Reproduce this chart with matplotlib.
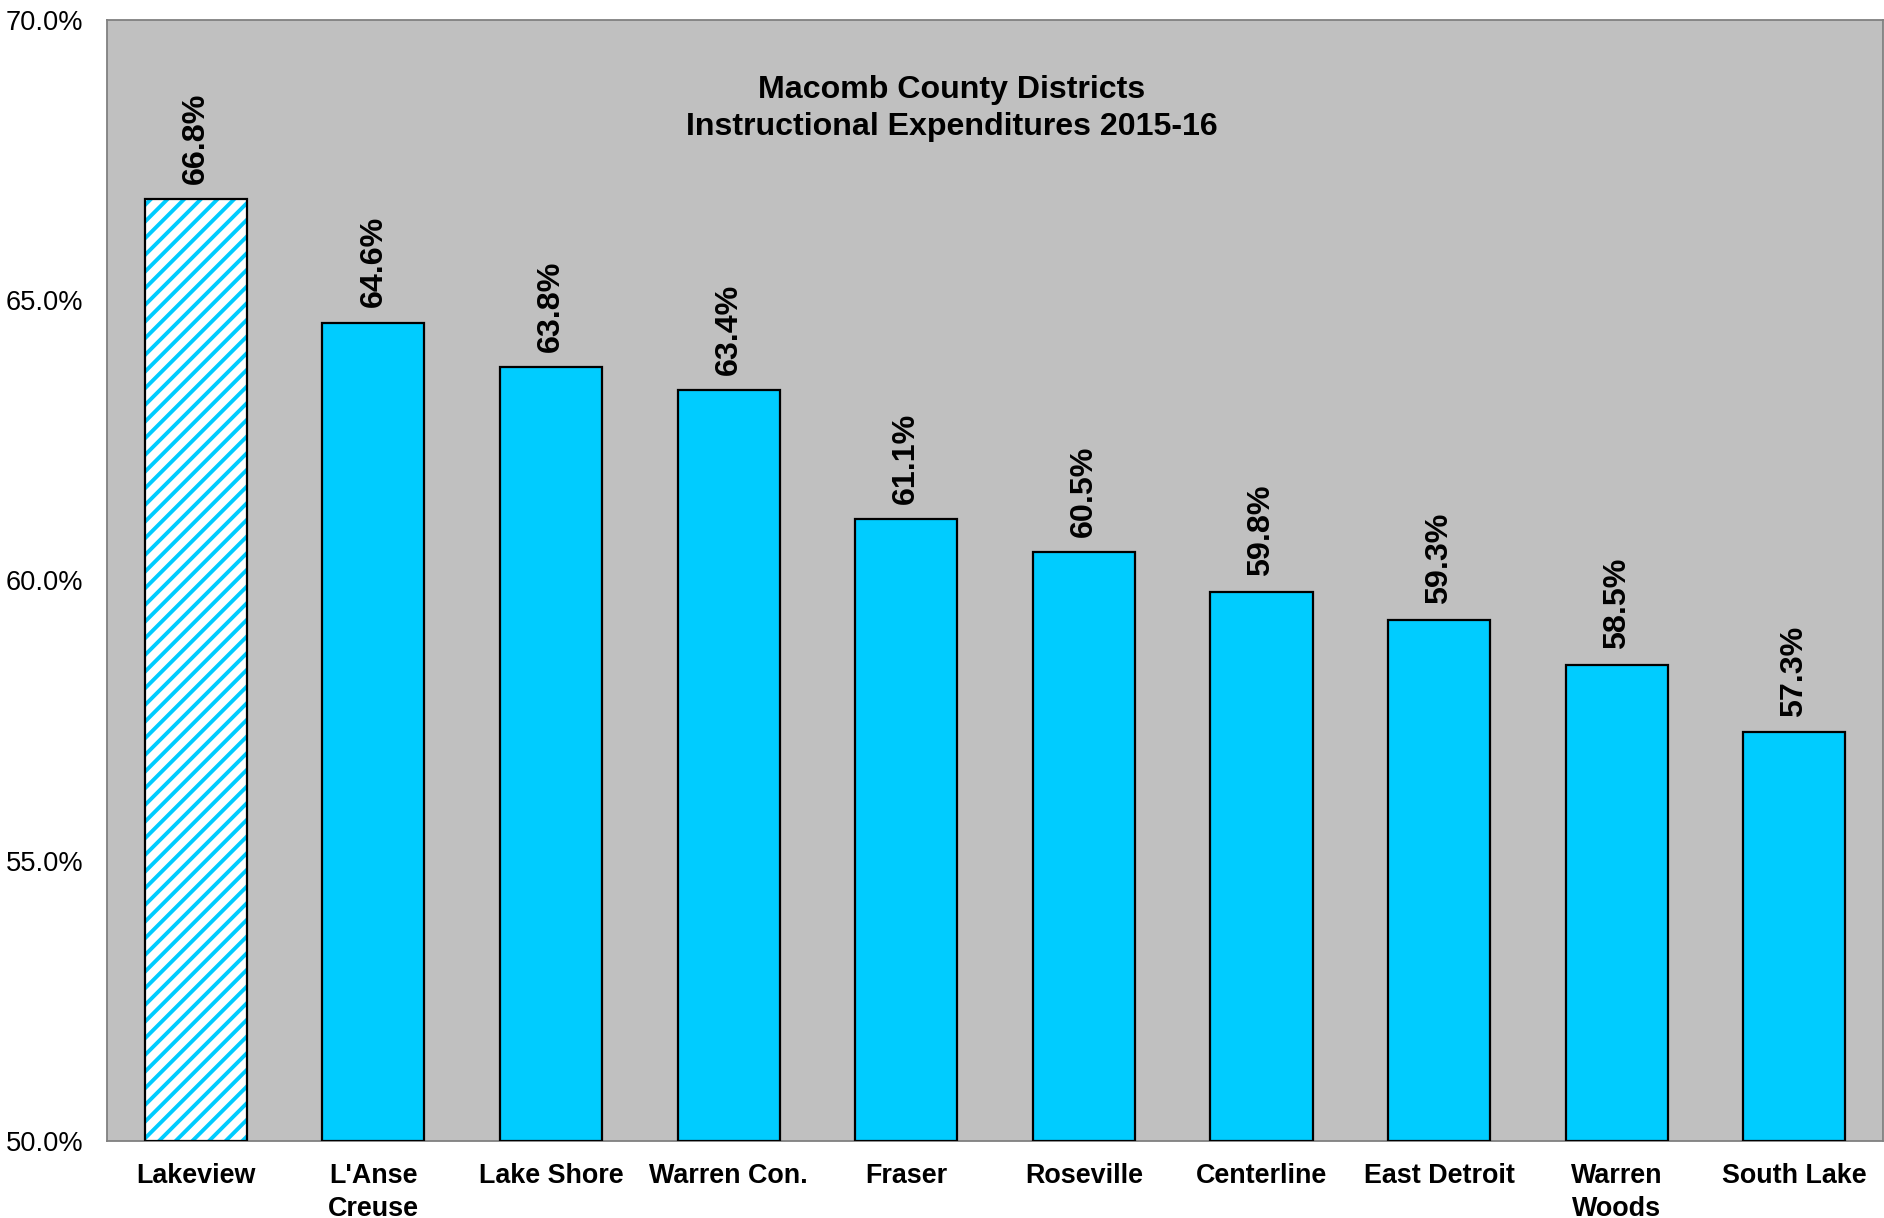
import matplotlib
matplotlib.use("Agg")
import matplotlib.pyplot as plt
import numpy as np

# Data
districts = ["Lakeview", "L'Anse\nCreuse", "Lake Shore", "Warren Con.", "Fraser",
             "Roseville", "Centerline", "East Detroit", "Warren\nWoods", "South Lake"]
values = [66.8, 64.6, 63.8, 63.4, 61.1, 60.5, 59.8, 59.3, 58.5, 57.3]
y_ticks = [50, 55, 60, 65, 70]

CYAN = "#00CCFF"
plt.rcParams['font.family'] = ['Liberation Sans', 'DejaVu Sans']
plt.rcParams['hatch.linewidth'] = 2.8

fig = plt.figure(figsize=(18.84, 12.18), dpi=100)
ax = fig.add_axes([0.0568, 0.0632, 0.9427, 0.9204])
ax.set_facecolor("#C0C0C0")

x = np.arange(len(districts))
width = 0.575

# Lakeview is highlighted with a hatch, the rest are solid
ax.bar(x[0], values[0] - 50, width, bottom=50, color="white",
       edgecolor=CYAN, hatch="//", linewidth=0, zorder=2)
ax.bar(x[0], values[0] - 50, width, bottom=50, fill=False,
       edgecolor="black", linewidth=1.6, zorder=3)
ax.bar(x[1:], np.array(values[1:]) - 50, width, bottom=50, color=CYAN,
       edgecolor="black", linewidth=1.6, zorder=3)

for xi, v in zip(x, values):
    ax.annotate(f"{v:.1f}%", xy=(xi, v), xytext=(0, 11), textcoords="offset points",
                rotation=90, ha="center", va="bottom", fontsize=23.2, fontweight="bold")

ax.set_xlim(-0.5, len(districts) - 0.5)
ax.set_ylim(50, 70)
ax.set_yticks(y_ticks)
ax.set_yticklabels([f"{t:.1f}%" for t in y_ticks], fontsize=19.6)
ax.set_xticks(x)
ax.set_xticklabels(districts, fontsize=19.4, fontweight="bold", linespacing=1.32)
ax.tick_params(axis="both", length=0)
ax.tick_params(axis="y", pad=17)
ax.tick_params(axis="x", pad=16)

for s in ax.spines.values():
    s.set_color("#808080")
    s.set_linewidth(1.3)

fig.text(0.505, 0.9112, "Macomb County Districts\nInstructional Expenditures 2015-16",
         ha="center", va="center", fontsize=23.1, fontweight="bold", linespacing=1.3)

fig.savefig("out.png", dpi=100)
